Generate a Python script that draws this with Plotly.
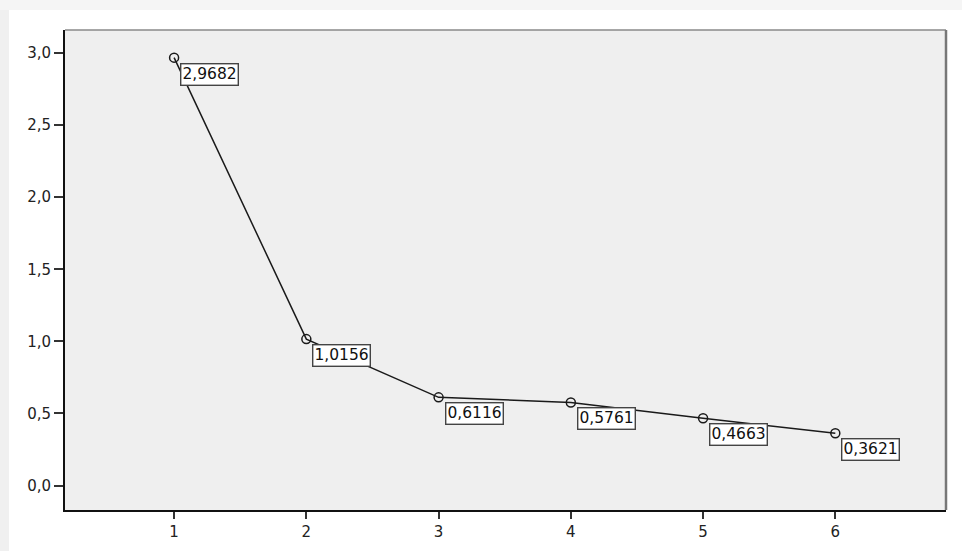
import plotly.graph_objects as go

# Scree plot: eigenvalue per component
components = [1, 2, 3, 4, 5, 6]
eigenvalues = [2.9682, 1.0156, 0.6116, 0.5761, 0.4663, 0.3621]
value_labels = ["2,9682", "1,0156", "0,6116", "0,5761", "0,4663", "0,3621"]
y_tick_values = [0.0, 0.5, 1.0, 1.5, 2.0, 2.5, 3.0]
y_tick_text = ["0,0", "0,5", "1,0", "1,5", "2,0", "2,5", "3,0"]

W, H = 962, 551
ML, MR, MT, MB = 65, 16, 30, 41
PW, PH = W - ML - MR, H - MT - MB

def px_x(p):
    return (p - ML) / PW

def px_y(p):
    return 1 - (p - MT) / PH

fig = go.Figure()
fig.add_trace(go.Scatter(
    x=components, y=eigenvalues, mode="lines+markers",
    line=dict(color="#1a1a1a", width=1.5),
    marker=dict(symbol="circle-open", size=9, color="#1a1a1a", line=dict(width=1.5)),
    hoverinfo="skip", showlegend=False,
))

for c, v, t in zip(components, eigenvalues, value_labels):
    fig.add_annotation(
        x=c, y=v, text=t, showarrow=False, xanchor="left", yanchor="top",
        xshift=6, yshift=-5, bgcolor="white", bordercolor="#444",
        borderwidth=1.4, borderpad=1,
        font=dict(family="DejaVu Sans", size=15.5, color="#111"),
    )

shapes = [
    # page edge shading
    dict(type="rect", xref="paper", yref="paper", x0=px_x(0), x1=px_x(9),
         y0=px_y(H), y1=px_y(0), fillcolor="#f0f0f0", line=dict(width=0), layer="below"),
    dict(type="rect", xref="paper", yref="paper", x0=px_x(0), x1=px_x(W),
         y0=px_y(10), y1=px_y(0), fillcolor="#f5f5f5", line=dict(width=0), layer="below"),
    # top and right frame of plot area
    dict(type="line", xref="paper", yref="paper", x0=0, x1=1, y0=1, y1=1,
         line=dict(color="#8a8a8a", width=1.5)),
    dict(type="line", xref="paper", yref="paper", x0=1, x1=1, y0=0, y1=1,
         line=dict(color="#777", width=2.5)),
]

tick_font = dict(family="DejaVu Sans", size=15, color="#222")

fig.update_layout(
    width=W, height=H,
    margin=dict(l=ML, r=MR, t=MT, b=MB, autoexpand=False),
    paper_bgcolor="white", plot_bgcolor="#efefef",
    shapes=shapes,
    xaxis=dict(
        range=[0.175, 6.837], tickvals=components, ticktext=[str(c) for c in components],
        showgrid=False, zeroline=False, showline=True, linecolor="#111", linewidth=2,
        ticks="outside", ticklen=7, tickwidth=2, tickcolor="#333",
        tickfont=tick_font, automargin=False,
    ),
    yaxis=dict(
        range=[-0.17, 3.16], tickvals=y_tick_values, ticktext=y_tick_text,
        showgrid=False, zeroline=False, showline=True, linecolor="#111", linewidth=2,
        ticks="outside", ticklen=9, tickwidth=1.5, tickcolor="#333",
        tickfont=tick_font, automargin=False,
    ),
)

fig.write_html("out.html")
